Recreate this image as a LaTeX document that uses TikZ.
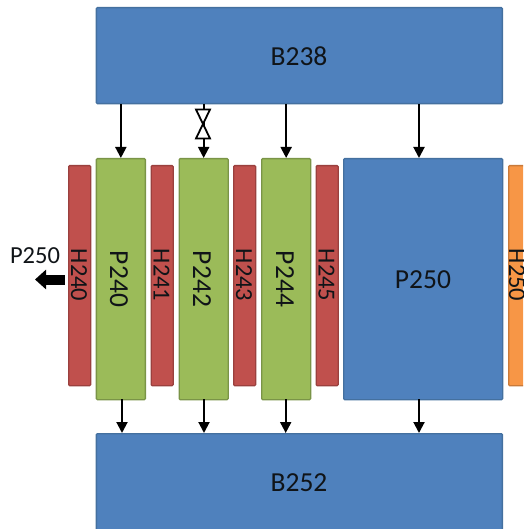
\documentclass[tikz,border=0pt]{standalone}
\usepackage{fontspec}
\setmainfont{Carlito}
\usetikzlibrary{arrows.meta}
\definecolor{bfill}{HTML}{4F81BD}
\definecolor{bline}{HTML}{44709F}
\definecolor{gfill}{HTML}{9BBB59}
\definecolor{gline}{HTML}{7A9447}
\definecolor{rfill}{HTML}{C0504D}
\definecolor{rline}{HTML}{9A403E}
\definecolor{ofill}{HTML}{F79646}
\definecolor{oline}{HTML}{C87A3A}
\definecolor{txt}{HTML}{101418}
\tikzset{
  x=1pt,y=-1pt,
  boxbase/.style={rounded corners=1pt,line width=1.3pt,inner sep=0pt,text=txt,anchor=north west},
  bluebox/.style={boxbase,draw=bline,fill=bfill},
  greenbox/.style={boxbase,draw=gline,fill=gfill,minimum width=49pt,minimum height=241pt},
  redbox/.style={boxbase,draw=rline,fill=rfill,minimum width=22pt,minimum height=220pt},
  orangebox/.style={redbox,draw=oline,fill=ofill},
  hlabel/.style={font=\fontsize{27.5}{27.5}\selectfont,text=txt,inner sep=0pt},
  biglabel/.style={hlabel,rotate=-90},
  smalllabel/.style={font=\fontsize{24.5}{24.5}\selectfont,text=txt,rotate=-90,inner sep=0pt},
  flow/.style={line width=2pt,draw=black,-{Triangle[width=11pt,length=11pt]}},
  valvepart/.style={draw=black,fill=white,line width=1.8pt,line join=miter},
}
\begin{document}
\begin{tikzpicture}
\clip (0,0) rectangle (523,529);
\node[bluebox,minimum width=406pt,minimum height=96pt] (B238) at (95.7,7) {};
\node[hlabel] (B238t) at (299,56) {B238};
\node[bluebox,minimum width=406pt,minimum height=110pt] (B252) at (95.7,433) {};
\node[hlabel] (B252t) at (299,483) {B252};
\node[bluebox,minimum width=159pt,minimum height=241pt] (P250) at (343,158) {};
\node[hlabel] (P250t) at (423,280) {P250};
\node[greenbox] (P240) at (95.7,158) {};
\node[greenbox] (P242) at (178.5,158) {};
\node[greenbox] (P244) at (261,158) {};
\node[redbox] (H240) at (68,165) {};
\node[redbox] (H241) at (150.5,165) {};
\node[redbox] (H243) at (233,165) {};
\node[redbox] (H245) at (315.5,165) {};
\node[orangebox] (H250) at (508,165) {};
\node[biglabel] at (119,279) {P240};
\node[biglabel] at (202,279) {P242};
\node[biglabel] at (285,279) {P244};
\node[smalllabel] at (79,275) {H240};
\node[smalllabel] at (161.5,275) {H241};
\node[smalllabel] at (244,275) {H243};
\node[smalllabel] at (326.5,275) {H245};
\node[smalllabel] at (517,275) {H250};
\node[font=\fontsize{24.5}{24.5}\selectfont,text=txt,inner sep=0pt] (P250out) at (35,256) {P250};
% top connectors
\draw[flow] (P240.north |- B238.south) -- (P240.north);
\coordinate (v) at (203,124);
\draw[flow] (P242.north |- B238.south) -- (P242.north);
\draw[valvepart] (v) -- ++(-7,-14.5) -- ++(14,0) -- cycle;
\draw[valvepart] (v) -- ++(-7,14.5) -- ++(14,0) -- cycle;
\draw[flow] (P244.north |- B238.south) -- (P244.north);
\coordinate (a4) at (419,158);
\draw[flow] (a4 |- B238.south) -- (a4);
% bottom connectors
\foreach \n/\x in {a/122,b/204,c/285.7,d/419}{
  \coordinate (s\n) at (\x,399);
  \coordinate (e\n) at (\x,433);
  \draw[flow] (s\n) -- (e\n);
}
% left outlet
\coordinate (outS) at (64.5,279.5);
\coordinate (outE) at (35,279.5);
\draw[line width=10pt,draw=black,-{Triangle[width=19pt,length=11pt,sep=0pt]}] (outS) -- (outE);
\end{tikzpicture}
\end{document}
